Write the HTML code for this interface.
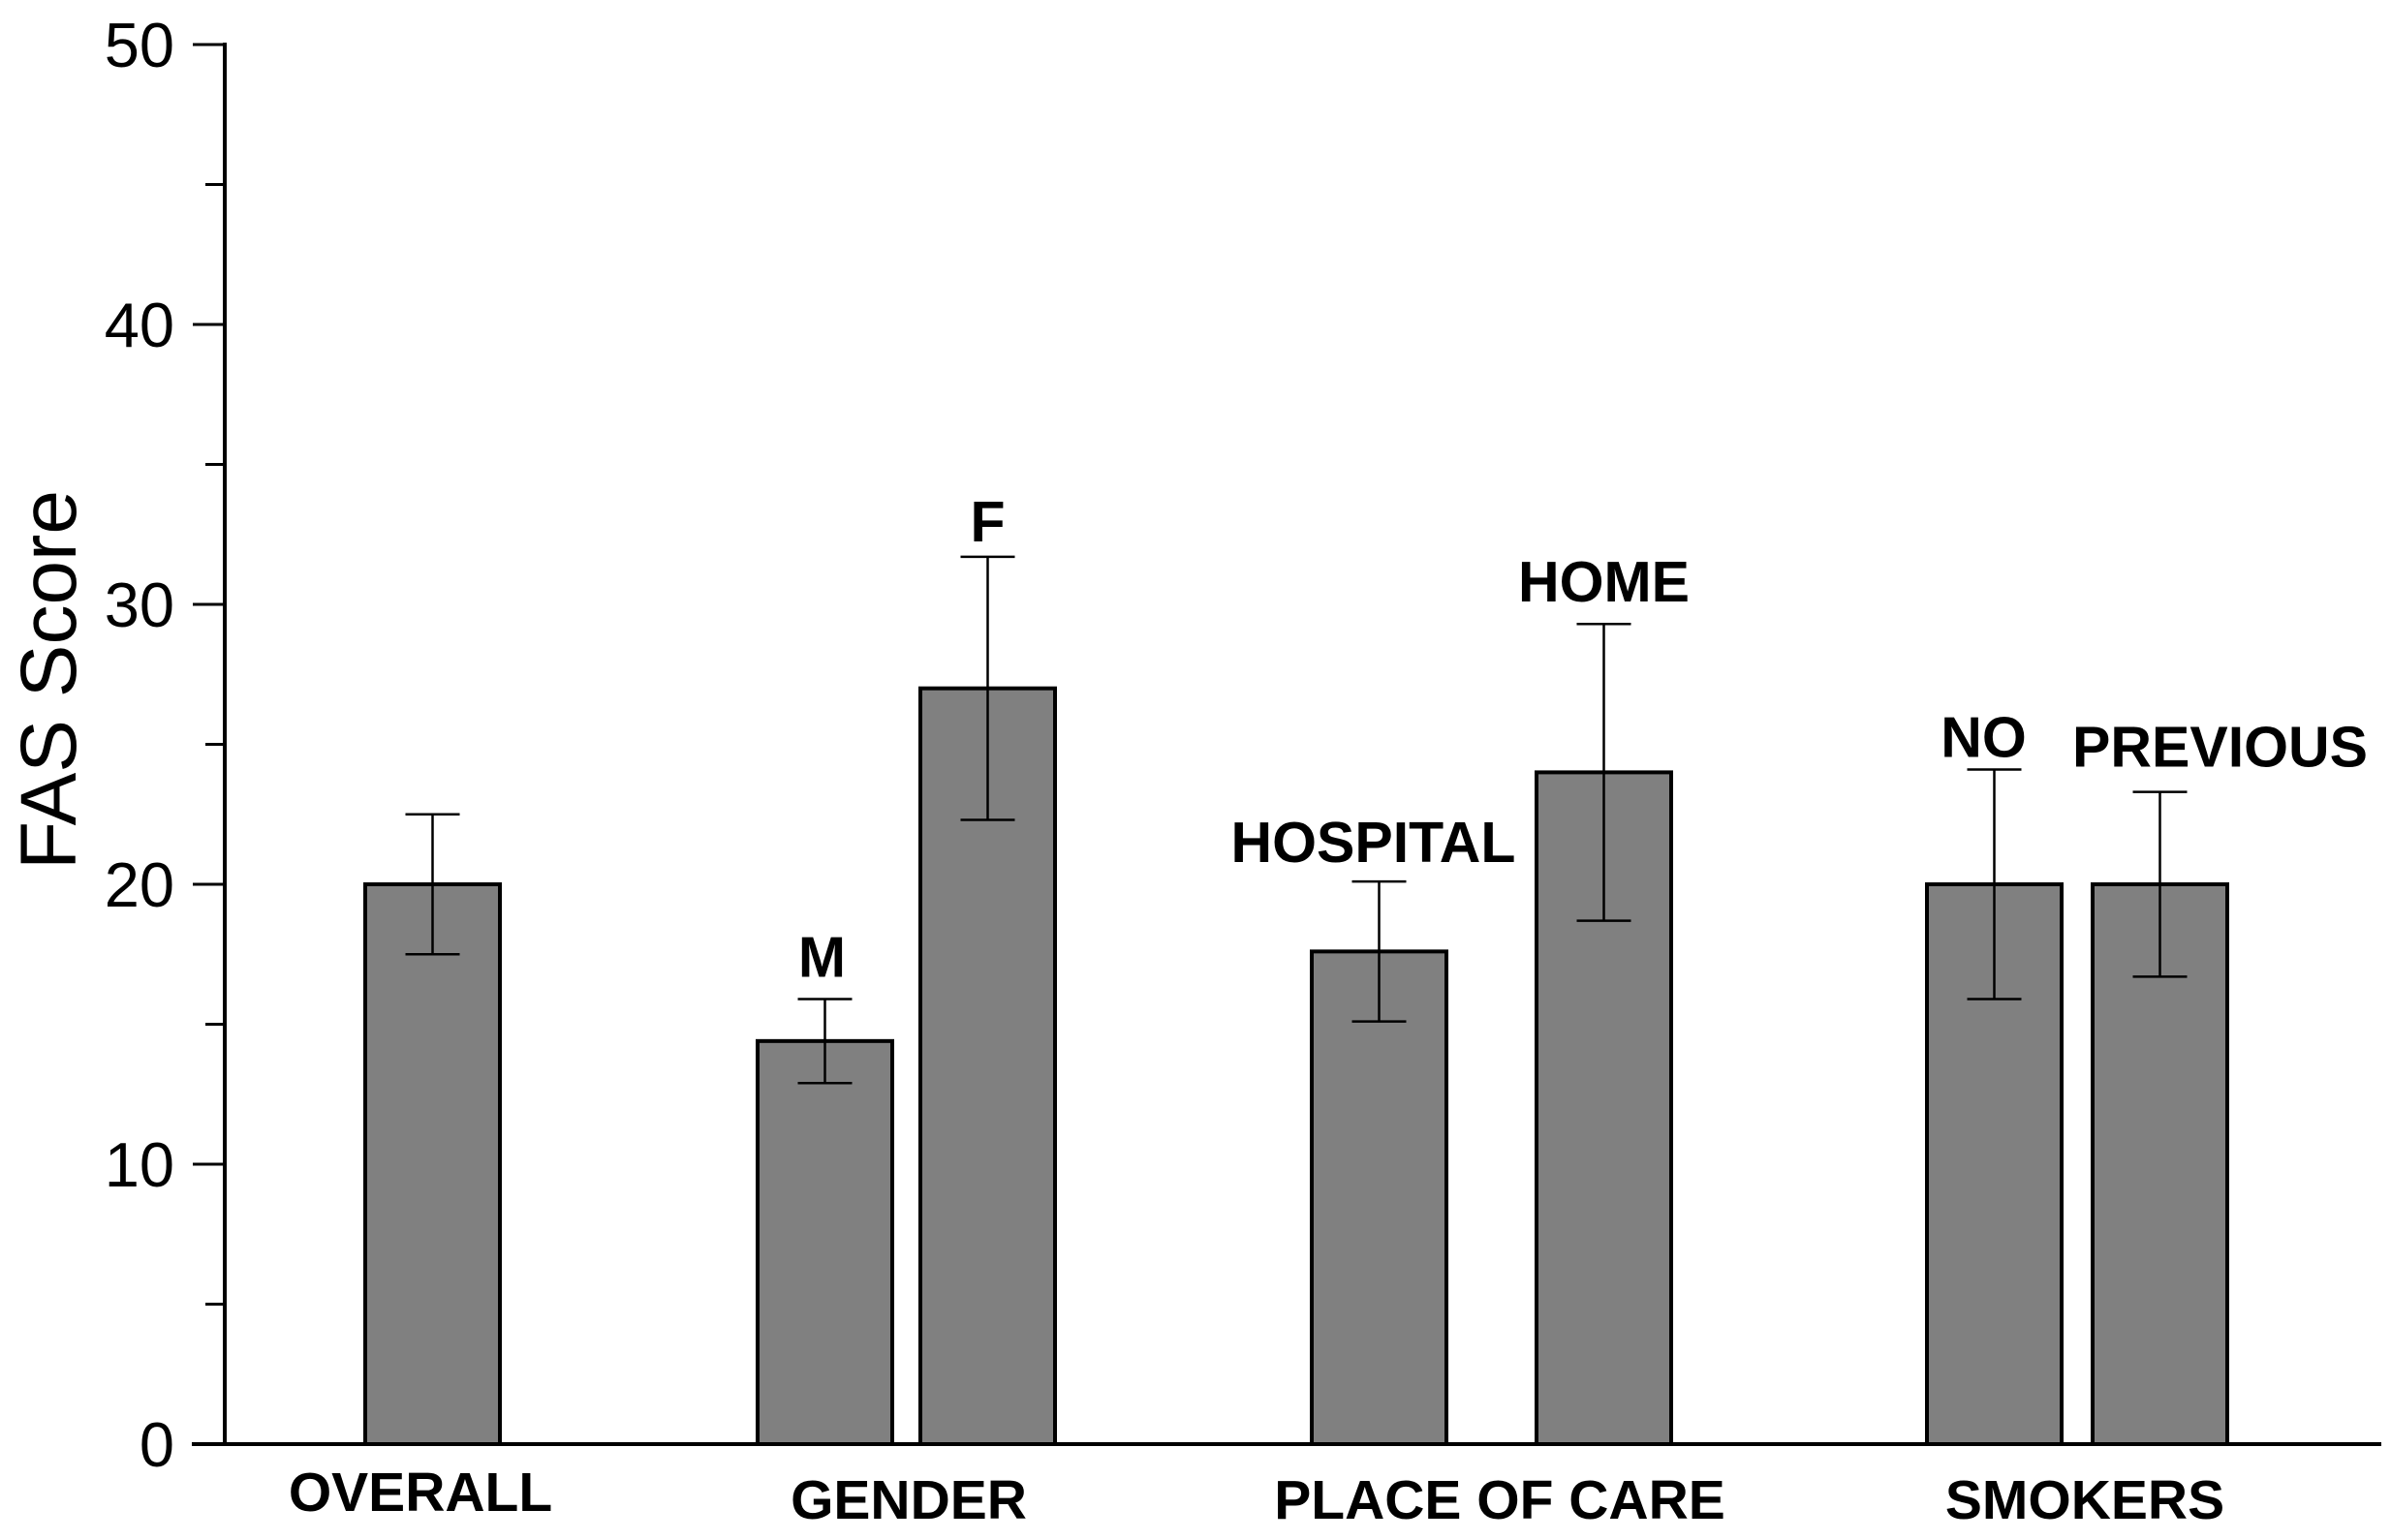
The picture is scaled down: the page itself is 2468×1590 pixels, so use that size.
<!DOCTYPE html>
<html><head><meta charset="utf-8"><style>
html,body{margin:0;padding:0;background:#fff;}
svg{display:block;}
text{font-family:"Liberation Sans",Arial,sans-serif;fill:#000;}
</style></head><body>
<svg id="chart" width="2468" height="1590" viewBox="0 0 2468 1590" xmlns="http://www.w3.org/2000/svg">
<g id="bars"></g>
<g id="axes"></g>
<text transform="translate(78,702) rotate(-90)" text-anchor="middle" font-size="82">FAS Score</text>
</svg>
<script>
const barLabels = ["", "M", "F", "HOSPITAL", "HOME", "NO", "PREVIOUS"];
const barValues = [20, 14.4, 27, 17.6, 24, 20, 20];
const errLow = [17.5, 12.9, 22.3, 15.1, 18.7, 15.9, 16.7];
const errHigh = [22.5, 15.9, 31.7, 20.1, 29.3, 24.1, 23.3];
const barSlots = [0, 1, 2, 3, 4, 5, 6];
const groupNames = ["OVERALL", "GENDER", "PLACE OF CARE", "SMOKERS"];
const yTicks = [0, 10, 20, 30, 40, 50];

const NS = "http://www.w3.org/2000/svg";
const Y0 = 1491, Y50 = 46;
function y(v){ return Y0 - (v/50)*(Y0-Y50); }
const barX = [377, 782, 950, 1354, 1586, 1989, 2160];
const barW = 139;
const groupX = [434, 938, 1548, 2152];
const groupY = [1560, 1568, 1568, 1568];
const labelDx = [0, -3, 0, -6, 0, -11, 62];
const labelDy = [0, 5, 12, 8, 5, 15, 2];

function mk(tag, attrs, parent){
  const e = document.createElementNS(NS, tag);
  for (const k in attrs) e.setAttribute(k, attrs[k]);
  parent.appendChild(e);
  return e;
}
const gb = document.getElementById('bars');
const ga = document.getElementById('axes');

barValues.forEach((v, i) => {
  const x = barX[barSlots[i]];
  const r = mk('rect', {x: x, y: y(v), width: barW, height: Y0 - y(v), fill: '#808080', stroke: '#000', 'stroke-width': 4}, gb);
  
  
  const cx = x + barW/2;
  const e1 = mk('line', {x1: cx, x2: cx, y1: y(errLow[i]), y2: y(errHigh[i]), stroke: '#000', 'stroke-width': 2.5}, gb);
  
  
  [errLow[i], errHigh[i]].forEach(ev => {
    const c = mk('line', {x1: cx-28, x2: cx+28, y1: y(ev), y2: y(ev), stroke: '#000', 'stroke-width': 2.5}, gb);
    
    
  });
  if (barLabels[i]) {
    const t = mk('text', {x: cx + labelDx[i], y: y(errHigh[i]) - 28 + labelDy[i], 'text-anchor': 'middle', 'font-size': 59, 'font-weight': 'bold'}, gb);
    t.textContent = barLabels[i];
    
    
  }
});

const yl = mk('line', {x1: 232, x2: 232, y1: 44, y2: Y0+2, stroke: '#000', 'stroke-width': 4}, ga);


const xl = mk('line', {x1: 198, x2: 2458, y1: Y0, y2: Y0, stroke: '#000', 'stroke-width': 4}, ga);


for (let v = 0; v <= 50; v += 5) {
  const major = v % 10 === 0;
  const tk = mk('line', {x1: major ? 199 : 212, x2: 232, y1: y(v), y2: y(v), stroke: '#000', 'stroke-width': 3}, ga);
  
  
}
yTicks.forEach(v => {
  const t = mk('text', {x: 180, y: y(v) + 23, 'text-anchor': 'end', 'font-size': 65}, ga);
  t.textContent = v;
  
  
});
groupNames.forEach((g, i) => {
  const t = mk('text', {x: groupX[i], y: groupY[i], 'text-anchor': 'middle', 'font-size': 57, 'font-weight': 'bold'}, ga);
  t.textContent = g;
  
  
});
</script>
</body></html>
